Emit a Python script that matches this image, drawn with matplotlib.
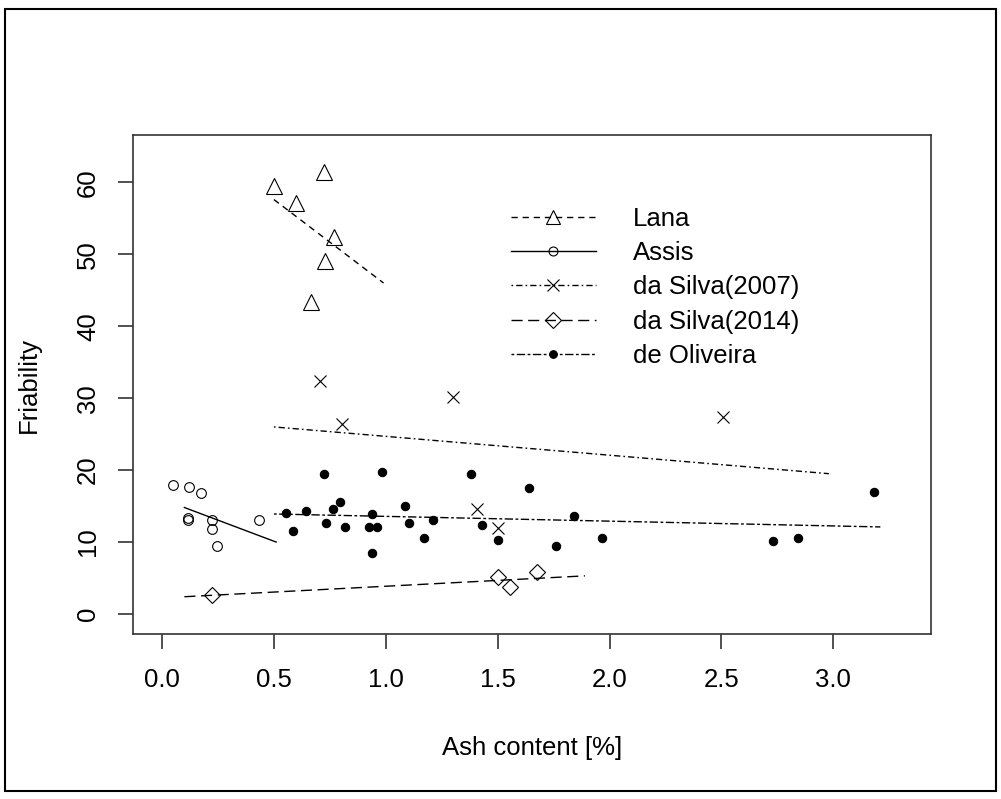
import matplotlib
matplotlib.use("Agg")
import matplotlib.pyplot as plt
from matplotlib.lines import Line2D
from matplotlib.patches import Rectangle

plt.rcParams['font.family'] = ['Liberation Sans', 'DejaVu Sans']

# ---- data ----
lana_x = [0.50, 0.60, 0.725, 0.77, 0.73, 0.665]
lana_y = [59.5, 57.1, 61.4, 52.4, 49.1, 43.4]
lana_fit_x = [0.50, 0.99]
lana_fit_y = [57.6, 46.0]

assis_x = [0.048, 0.121, 0.173, 0.118, 0.118, 0.223, 0.223, 0.244, 0.433]
assis_y = [17.9, 17.7, 16.8, 13.4, 13.0, 13.0, 11.8, 9.4, 13.0]
assis_fit_x = [0.10, 0.51]
assis_fit_y = [14.8, 10.0]

silva07_x = [0.706, 0.804, 1.30, 2.505, 1.406, 1.503]
silva07_y = [32.4, 26.4, 30.2, 27.4, 14.6, 11.9]
silva07_fit_x = [0.50, 2.98]
silva07_fit_y = [26.0, 19.5]

silva14_x = [0.222, 1.50, 1.555, 1.677]
silva14_y = [2.6, 5.1, 3.7, 5.8]
silva14_fit_x = [0.10, 1.89]
silva14_fit_y = [2.4, 5.3]

oliv_x = [0.555, 0.585, 0.645, 0.722, 0.731, 0.766, 0.795, 0.818, 0.940,
          0.923, 0.961, 0.940, 0.983, 1.084, 1.105, 1.171, 1.212, 1.379,
          1.430, 1.503, 1.640, 1.762, 1.842, 1.965, 2.731, 2.840, 3.180]
oliv_y = [14.1, 11.6, 14.3, 19.5, 12.7, 14.6, 15.6, 12.1, 13.9,
          12.1, 12.1, 8.5, 19.7, 15.0, 12.7, 10.5, 13.0, 19.5,
          12.3, 10.3, 17.5, 9.4, 13.6, 10.5, 10.1, 10.5, 17.0]
oliv_fit_x = [0.50, 3.21]
oliv_fit_y = [13.9, 12.1]

labels = ["Lana", "Assis", "da Silva(2007)", "da Silva(2014)", "de Oliveira"]
x_ticks = [0.0, 0.5, 1.0, 1.5, 2.0, 2.5, 3.0]
x_tick_labels = ["0.0", "0.5", "1.0", "1.5", "2.0", "2.5", "3.0"]
y_ticks = [0, 10, 20, 30, 40, 50, 60]

# ---- styles ----
FS = 18.5
LW = 1.0
MEW = 0.8
styles = [
    dict(marker='^', ms=11.5, mfc='none', ls=(0, (4.5, 3.5))),
    dict(marker='o', ms=7.0, mfc='none', ls='-'),
    dict(marker='x', ms=9.0, mfc='none', ls=(0, (1.2, 2.2, 4.5, 2.2))),
    dict(marker='D', ms=8.6, mfc='none', ls=(0, (8, 4))),
    dict(marker='o', ms=6.0, mfc='black', ls=(0, (2, 1.8, 6, 1.8))),
]

fig = plt.figure(figsize=(10.01, 7.99), dpi=100)
W, H = 1001, 799
ax = fig.add_axes([132.7 / W, 1 - 634 / H, (930.7 - 132.7) / W, (634 - 135.3) / H])

series = [
    (lana_x, lana_y, lana_fit_x, lana_fit_y),
    (assis_x, assis_y, assis_fit_x, assis_fit_y),
    (silva07_x, silva07_y, silva07_fit_x, silva07_fit_y),
    (silva14_x, silva14_y, silva14_fit_x, silva14_fit_y),
    (oliv_x, oliv_y, oliv_fit_x, oliv_fit_y),
]
handles = []
for (xs, ys, fx, fy), st, lab in zip(series, styles, labels):
    ax.plot(xs, ys, ls='none', marker=st['marker'], ms=st['ms'],
            mfc=st['mfc'], mec='black', mew=MEW)
    ax.plot(fx, fy, color='black', lw=LW, ls=st['ls'])
    handles.append(Line2D([], [], color='black', lw=LW, ls=st['ls'],
                          marker=st['marker'], ms=st['ms'] * 0.92,
                          mfc=st['mfc'], mec='black', mew=MEW))

ax.set_xlim(-0.131, 3.435)
ax.set_ylim(-2.78, 66.53)
ax.set_xticks(x_ticks)
ax.set_xticklabels(x_tick_labels)
ax.set_yticks(y_ticks)
ax.set_yticklabels([str(v) for v in y_ticks], rotation=90, va='center')
for s in ax.spines.values():
    s.set_linewidth(1.2)
    s.set_color('#333333')
ax.tick_params(length=10.5, width=1.2, color='#333333', labelsize=FS, pad=14)
ax.tick_params(axis='y', pad=13)

ax.set_xlabel("Ash content [%]", fontsize=FS, labelpad=32)
ax.set_ylabel("Friability", fontsize=FS, labelpad=25)

leg = ax.legend(handles, labels, loc='upper left', frameon=False,
                bbox_to_anchor=(498 / W, 1 - 194 / H), bbox_transform=fig.transFigure,
                fontsize=FS, handlelength=3.3, handletextpad=1.45,
                labelspacing=0.4, borderpad=0)

fig.patches.append(Rectangle((5 / W, 1 - 791 / H), (996 - 5) / W, (791 - 9) / H,
                             transform=fig.transFigure, fill=False,
                             edgecolor='black', lw=1.5))

fig.savefig("out.png", dpi=100, facecolor='white')
